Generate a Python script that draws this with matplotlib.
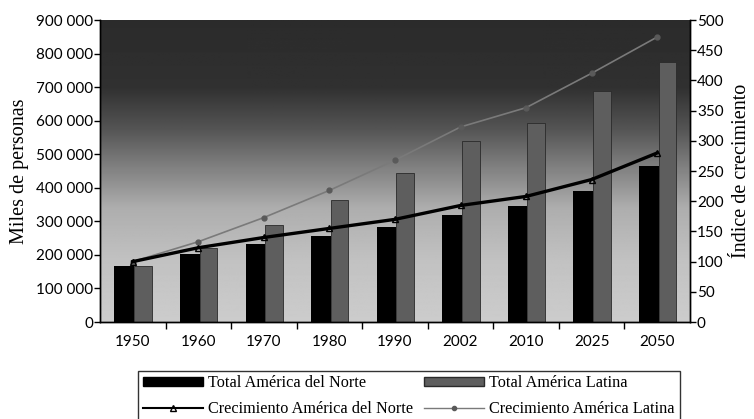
import numpy as np
import matplotlib
matplotlib.use('Agg')
import matplotlib.pyplot as plt
from matplotlib.ticker import FuncFormatter, MultipleLocator, FixedLocator
from matplotlib.lines import Line2D
from matplotlib.patches import Patch

# datos (miles de personas)
anios = ['1950', '1960', '1970', '1980', '1990', '2002', '2010', '2025', '2050']
total_norte = [166000, 204000, 232000, 257000, 282000, 320000, 345000, 391000, 464000]
total_latina = [167000, 222000, 288000, 363000, 444000, 540000, 593000, 688000, 776000]
crec_norte = [100, 123, 140, 155, 170, 193, 208, 236, 280]
crec_latina = [100, 133, 173, 218, 268, 323, 355, 412, 472]

SERIF = 'Liberation Serif'
SANS = 'Lato'

fig = plt.figure(figsize=(7.54, 4.19), dpi=100)
ax = fig.add_axes([0.1326, 0.2315, 0.7825, 0.7205])
ax2 = ax.twinx()

x = np.arange(len(anios))

# fondo degradado (oscuro arriba, claro abajo)
frac = np.linspace(0, 1, 300)
tono = np.interp(frac, [0, 0.22, 0.36, 0.5, 0.62, 0.8, 1.0],
                 [0.17, 0.19, 0.33, 0.52, 0.68, 0.76, 0.80])
grad = np.repeat(tono[:, None], 2, axis=1)
ax.imshow(grad, cmap='gray', vmin=0, vmax=1, aspect='auto',
          extent=[-0.5, len(anios) - 0.5, 0, 900000], origin='upper', zorder=0)

ax.bar(x - 0.13, total_norte, width=0.30, color='black', zorder=2)
ax.bar(x + 0.155, total_latina, width=0.27, color='#5e5e5e',
       edgecolor='#2a2a2a', linewidth=0.6, zorder=2)

ax2.plot(x, crec_norte, color='black', lw=2.4, marker='^', ms=4,
         mfc='none', mec='black', zorder=4)
ax2.plot(x, crec_latina, color='#7a7a7a', lw=1.2, marker='o', ms=3.5,
         mfc='#5a5a5a', mec='#5a5a5a', zorder=3)

ax.set_xlim(-0.5, len(anios) - 0.5)
ax.set_ylim(0, 900000)
ax2.set_ylim(0, 500)

ax.yaxis.set_major_locator(MultipleLocator(100000))
ax.yaxis.set_major_formatter(FuncFormatter(lambda v, p: f'{int(v):,}'.replace(',', ' ')))
ax2.yaxis.set_major_locator(MultipleLocator(50))

ax.set_xticks(x)
ax.set_xticklabels(anios)
ax.xaxis.set_minor_locator(FixedLocator(np.arange(0.5, len(anios) - 0.5, 1)))
ax.tick_params(axis='x', which='major', length=0, pad=9)
ax.tick_params(axis='x', which='minor', length=5, width=1, direction='out')
ax.tick_params(axis='y', length=4, width=1, direction='out', pad=1)
ax2.tick_params(axis='y', length=4, width=1, direction='out', pad=1)

for lab in ax.get_xticklabels() + ax.get_yticklabels() + ax2.get_yticklabels():
    lab.set_fontfamily(SANS)
    lab.set_fontsize(11)

for a in (ax, ax2):
    a.spines['top'].set_visible(False)
    for s in ('left', 'right', 'bottom'):
        a.spines[s].set_linewidth(1.0)

ax.set_ylabel('Miles de personas', family=SERIF, fontsize=14.5, labelpad=5)
ax2.set_ylabel('Índice de crecimiento', family=SERIF, fontsize=14.5, labelpad=6)

handles = [
    Patch(facecolor='black', edgecolor='black'),
    Line2D([], [], color='black', lw=1.5, marker='^', ms=4, mfc='none'),
    Patch(facecolor='#5e5e5e', edgecolor='#2a2a2a'),
    Line2D([], [], color='#7a7a7a', lw=1.0, marker='o', ms=3, mfc='#5a5a5a', mec='#5a5a5a'),
]
labels = ['Total América del Norte', 'Crecimiento América del Norte',
          'Total América Latina', 'Crecimiento América Latina']
leg = fig.legend(handles, labels, ncol=2, loc='upper left',
                 bbox_to_anchor=(0.172, 0.135), frameon=True, fancybox=False,
                 prop={'family': SERIF, 'size': 11.7}, handlelength=3.7,
                 handleheight=0.45, columnspacing=0.7, handletextpad=0.3,
                 labelspacing=0.6, borderpad=0.3)
leg.get_frame().set_edgecolor('black')
leg.get_frame().set_linewidth(1.0)

fig.savefig('out.png', dpi=100)
